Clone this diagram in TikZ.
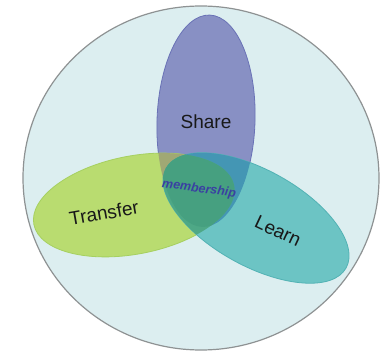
\documentclass[tikz,border=0pt]{standalone}
\usepackage{fontspec}
\setmainfont{Liberation Sans}
\usepackage{tikz}

\definecolor{ringfill}{HTML}{DCEEF0}
\definecolor{ringline}{HTML}{8E9293}
\definecolor{sharecol}{HTML}{8890C4}
\definecolor{shareline}{HTML}{6A72B6}
\definecolor{transfercol}{HTML}{B9DC70}
\definecolor{transferline}{HTML}{A6D060}
\definecolor{learncol}{HTML}{6CC4C4}
\definecolor{learnline}{HTML}{52B2B4}
\definecolor{stcol}{HTML}{A0A874}
\definecolor{slcol}{HTML}{4496B4}
\definecolor{tlcol}{HTML}{4EA886}
\definecolor{allcol}{HTML}{46A080}
\definecolor{membercol}{HTML}{3A40A2}

% the three ellipses
\def\shareE{(206,230) ellipse (49pt and 106pt)}
\def\transferE{(134,146) ellipse (102pt and 49pt)}
\def\learnE{(256,133) ellipse (103pt and 48pt)}

\tikzset{
  shareturn/.style={rotate around={-2:(206,230)}},
  transferturn/.style={rotate around={11:(134,146)}},
  learnturn/.style={rotate around={-29:(256,133)}},
  word/.style={text=black!90, font=\fontsize{19}{19}\selectfont, inner sep=0pt}
}

\begin{document}
\begin{tikzpicture}[x=1pt,y=1pt]
  \useasboundingbox (0,0) rectangle (383,351);

  % outer ring
  \draw[ringline, line width=1.2pt, fill=ringfill] (201,173) ellipse (178pt and 172pt);

  % plain fills with their rims
  \filldraw[fill=sharecol, draw=shareline, line width=0.8pt, shareturn] \shareE;
  \filldraw[fill=transfercol, draw=transferline, line width=0.8pt, transferturn] \transferE;
  \filldraw[fill=learncol, draw=learnline, line width=0.8pt, learnturn] \learnE;

  % overlaps
  \begin{scope}
    \clip[shareturn] \shareE;
    \fill[stcol, transferturn] \transferE;
    \fill[slcol, learnturn] \learnE;
  \end{scope}
  \begin{scope}
    \clip[transferturn] \transferE;
    \fill[tlcol, learnturn] \learnE;
    \clip[learnturn] \learnE;
    \fill[allcol, shareturn] \shareE;
  \end{scope}

  % labels
  \node[word] (share) at (206,229) {Share};
  \node[word, rotate=10] (transfer) at (104,138) {Transfer};
  \node[word, rotate=-25] (learn) at (278,120) {Learn};
  \node[text=membercol, font=\fontsize{12.5}{12.5}\selectfont\bfseries\itshape,
        inner sep=0pt, rotate=-8] (member) at (199,162) {membership};
\end{tikzpicture}
\end{document}
